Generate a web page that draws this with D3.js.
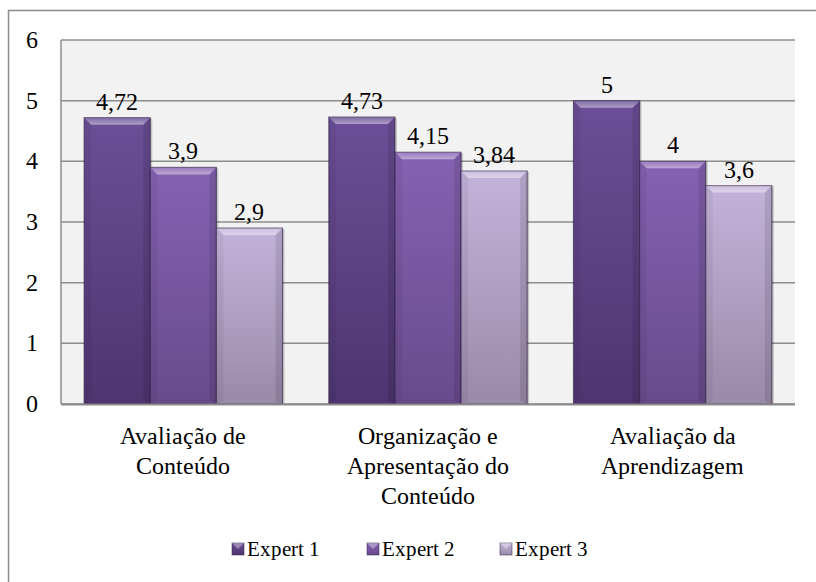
<!DOCTYPE html>
<html>
<head>
  <meta charset="UTF-8">
  <script src="https://d3js.org/d3.v7.min.js"></script>
  <style>
    @font-face {
      font-family: "ChartSerif";
      src: local("Liberation Serif"), local("LiberationSerif"), local("Times New Roman"), local("Tinos");
    }
    body { margin: 0; }
  </style>
</head>
<body>
  <script>
    // data
    const categories = [
      ["Avaliação de", "Conteúdo"],
      ["Organização e", "Apresentação do", "Conteúdo"],
      ["Avaliação da", "Aprendizagem"]
    ];
    const series = ["Expert 1", "Expert 2", "Expert 3"];
    const values = [
      [4.72, 3.9, 2.9],
      [4.73, 4.15, 3.84],
      [5, 4, 3.6]
    ];
    const yTicks = [0, 1, 2, 3, 4, 5, 6];

    // top / bottom gradient colours per expert
    const colors = [
      ["#6b4f97", "#4e3570"],
      ["#8662b2", "#684a8c"],
      ["#c3b3da", "#9a8aa9"]
    ];

    const W = 816, H = 582;
    const plot = { left: 61, top: 40, right: 795, bottom: 404 };
    const serif = '"ChartSerif", "Liberation Serif", "Times New Roman", serif';

    const svg = d3.select("body").append("svg")
      .attr("width", W)
      .attr("height", H);

    function label(sel, size) {
      return sel.style("font-family", serif)
        .style("font-size", size + "px");
    }

    const defs = svg.append("defs");
    colors.forEach((c, i) => {
      const g = defs.append("linearGradient")
        .attr("id", "grad" + i)
        .attr("x1", 0).attr("y1", 0).attr("x2", 0).attr("y2", 1);
      g.append("stop").attr("offset", "0%").attr("stop-color", c[0]);
      g.append("stop").attr("offset", "100%").attr("stop-color", c[1]);
    });
    const bevGrad = defs.append("linearGradient")
      .attr("id", "bevel")
      .attr("x1", 0).attr("y1", 0).attr("x2", 0).attr("y2", 1);
    bevGrad.append("stop").attr("offset", "0%").attr("stop-color", "#fff").attr("stop-opacity", 0.15);
    bevGrad.append("stop").attr("offset", "100%").attr("stop-color", "#fff").attr("stop-opacity", 0.45);

    // outer border
    svg.append("rect")
      .attr("x", 8.5).attr("y", 10.5)
      .attr("width", W).attr("height", H)
      .attr("fill", "none")
      .attr("stroke", "#8c8c8c")
      .attr("stroke-width", 1.5);

    const x0 = d3.scaleBand()
      .domain(d3.range(categories.length))
      .range([plot.left, plot.right]);

    const x1 = d3.scaleBand()
      .domain(d3.range(series.length))
      .range([0, x0.bandwidth()])
      .paddingOuter(0.35)
      .paddingInner(0);

    const y = d3.scaleLinear()
      .domain([0, 6])
      .range([plot.bottom, plot.top]);

    // plot background
    svg.append("rect")
      .attr("x", plot.left).attr("y", plot.top)
      .attr("width", plot.right - plot.left)
      .attr("height", plot.bottom - plot.top)
      .attr("fill", "#f2f2f2");

    // grid
    svg.append("g")
      .selectAll("line")
      .data(yTicks)
      .join("line")
      .attr("x1", plot.left).attr("x2", plot.right)
      .attr("y1", d => y(d)).attr("y2", d => y(d))
      .attr("stroke", "#8c8c8c").attr("stroke-width", 1.5);

    svg.append("line")
      .attr("x1", plot.left).attr("x2", plot.left)
      .attr("y1", plot.top).attr("y2", plot.bottom)
      .attr("stroke", "#8c8c8c").attr("stroke-width", 1.5);

    // y labels
    svg.selectAll(".ytick")
      .data(yTicks)
      .join("text")
      .attr("class", "ytick")
      .attr("x", 38)
      .attr("y", d => y(d))
      .attr("dy", "0.34em")
      .attr("text-anchor", "end")
      .call(label, 24)
      .text(d => d);

    // bars
    const bw = x1.bandwidth();
    const bev = 7;
    const groups = svg.append("g")
      .selectAll("g")
      .data(values)
      .join("g")
      .attr("transform", (d, i) => `translate(${x0(i)},0)`);

    const bars = groups.selectAll("g")
      .data(d => d.map((v, j) => ({ v, j })))
      .join("g")
      .attr("transform", d => `translate(${x1(d.j)},${y(d.v)})`);

    // soft shadow right / below
    bars.append("rect")
      .attr("x", 2).attr("y", 1)
      .attr("width", bw)
      .attr("height", d => y(0) - y(d.v))
      .attr("fill", "#000")
      .attr("fill-opacity", 0.18);

    bars.append("rect")
      .attr("width", bw)
      .attr("height", d => y(0) - y(d.v))
      .attr("fill", d => `url(#grad${d.j})`)
      .attr("stroke", "#2e1f44")
      .attr("stroke-opacity", 0.6)
      .attr("stroke-width", 1.2);

    // bevel: light top, darker sides
    bars.append("path")
      .attr("d", `M0,0 L${bw},0 L${bw - bev},${bev} L${bev},${bev} Z`)
      .attr("fill", "url(#bevel)");
    bars.append("path")
      .attr("d", d => {
        const h = y(0) - y(d.v);
        return `M0,0 L${bev},${bev} L${bev},${h - 3} L0,${h} Z`;
      })
      .attr("fill", "#000")
      .attr("fill-opacity", 0.05);
    bars.append("path")
      .attr("d", d => {
        const h = y(0) - y(d.v);
        return `M${bw},0 L${bw - bev},${bev} L${bw - bev},${h - 3} L${bw},${h} Z`;
      })
      .attr("fill", "#000")
      .attr("fill-opacity", 0.1);

    // value labels
    bars.append("text")
      .attr("x", bw / 2)
      .attr("y", -8)
      .attr("text-anchor", "middle")
      .call(label, 24)
      .text(d => String(d.v).replace(".", ","));

    // x axis line
    svg.append("line")
      .attr("x1", plot.left).attr("x2", plot.right)
      .attr("y1", plot.bottom + 0.5).attr("y2", plot.bottom + 0.5)
      .attr("stroke", "#8c8c8c").attr("stroke-width", 2);

    // category labels, one text per line
    const catG = svg.append("g")
      .selectAll("g")
      .data(categories)
      .join("g")
      .attr("transform", (d, i) => `translate(${x0(i) + x0.bandwidth() / 2},444)`);
    catG.selectAll("text")
      .data(d => d)
      .join("text")
      .attr("y", (d, i) => i * 30)
      .attr("text-anchor", "middle")
      .call(label, 24)
      .text(d => d);

    // legend
    const legX = [232, 367, 500];
    const leg = svg.append("g")
      .selectAll("g")
      .data(series)
      .join("g")
      .attr("transform", (d, i) => `translate(${legX[i]},543)`);
    leg.append("rect")
      .attr("width", 12).attr("height", 12)
      .attr("fill", (d, i) => `url(#grad${i})`)
      .attr("stroke", "#2e1f44").attr("stroke-opacity", 0.5);
    leg.append("path")
      .attr("d", "M0,0 L12,0 L6,6 Z")
      .attr("fill", "#fff").attr("fill-opacity", 0.35);
    leg.append("text")
      .attr("x", 15)
      .attr("y", 13)
      .call(label, 21)
      .text(d => d);
  </script>
</body>
</html>
